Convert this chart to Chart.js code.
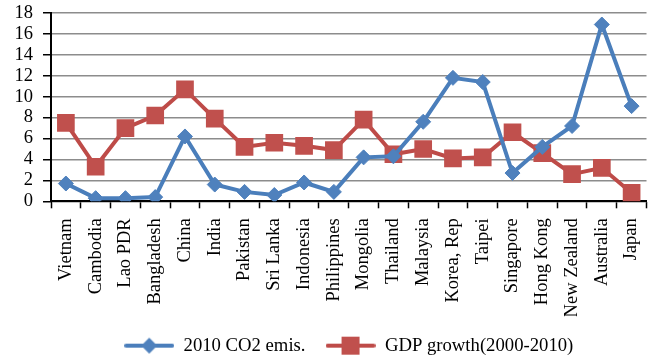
<!DOCTYPE html>
<html>
<head>
<meta charset="utf-8">
<script src="https://cdn.jsdelivr.net/npm/chart.js@4/dist/chart.umd.min.js"></script>
<style>
  html, body { margin: 0; padding: 0; background: #fff; }
  #wrap { width: 659px; height: 356px; }
</style>
</head>
<body>
<div id="wrap"><canvas id="c" width="659" height="356"></canvas></div>
<script>
// Economies shown along the horizontal axis
const countries = ['Vietnam', 'Cambodia', 'Lao PDR', 'Bangladesh', 'China', 'India', 'Pakistan',
  'Sri Lanka', 'Indonesia', 'Philippines', 'Mongolia', 'Thailand', 'Malaysia', 'Korea, Rep',
  'Taipei', 'Singapore', 'Hong Kong', 'New Zealand', 'Australia', 'Japan'];

// 2010 CO2 emissions per capita (metric tons)
const co2Emissions = [1.7, 0.3, 0.3, 0.4, 6.2, 1.6, 0.9, 0.6, 1.8, 0.9, 4.2, 4.3, 7.6, 11.8,
  11.4, 2.7, 5.2, 7.2, 16.9, 9.1];

// Average GDP growth 2000-2010 (%)
const gdpGrowth = [7.5, 3.3, 7.0, 8.2, 10.7, 7.9, 5.2, 5.6, 5.3, 4.9, 7.8, 4.5, 5.0, 4.1,
  4.2, 6.6, 4.6, 2.6, 3.2, 0.8];

// Value axis tick marks
const yTicks = [0, 2, 4, 6, 8, 10, 12, 14, 16, 18];

const BLUE_LINE = '#4A7EBB', BLUE_FILL = '#4F81BD';
const RED_LINE = '#BE4B48', RED_FILL = '#C0504D';
const FONT = '"Liberation Serif", "Times New Roman", serif';

// small legend glyph: line segment with a marker in the middle
function legendGlyph(lineColor, fillColor, style) {
  const cv = document.createElement('canvas');
  cv.width = 50; cv.height = 20;
  const g = cv.getContext('2d');
  g.strokeStyle = lineColor; g.lineWidth = 4; g.lineCap = 'round';
  g.beginPath(); g.moveTo(2, 10); g.lineTo(48, 10); g.stroke();
  g.fillStyle = fillColor;
  g.beginPath();
  if (style === 'diamond') {
    g.moveTo(25, 2); g.lineTo(33, 10); g.lineTo(25, 18); g.lineTo(17, 10); g.closePath();
  } else {
    g.rect(16, 1, 18, 18);
  }
  g.fill();
  return cv;
}

const blueGlyph = legendGlyph(BLUE_LINE, BLUE_FILL, 'diamond');
const redGlyph = legendGlyph(RED_LINE, RED_FILL, 'square');

new Chart(document.getElementById('c'), {
  type: 'line',
  data: {
    labels: countries,
    datasets: [
      {
        label: '2010 CO2 emis.',
        data: co2Emissions,
        borderColor: BLUE_LINE,
        backgroundColor: BLUE_FILL,
        borderWidth: 4,
        pointStyle: 'rectRot',
        pointRadius: 7.5,
        pointBorderWidth: 1,
        pointBorderColor: BLUE_FILL,
        pointBackgroundColor: BLUE_FILL,
        tension: 0
      },
      {
        label: 'GDP growth(2000-2010)',
        data: gdpGrowth,
        borderColor: RED_LINE,
        backgroundColor: RED_FILL,
        borderWidth: 4,
        pointStyle: 'rect',
        pointRadius: 12.5,
        pointBorderWidth: 0,
        pointBorderColor: RED_FILL,
        pointBackgroundColor: RED_FILL,
        tension: 0
      }
    ]
  },
  options: {
    responsive: false,
    animation: false,
    layout: { padding: { left: 0, right: 6, top: 13, bottom: -9 } },
    plugins: {
      tooltip: { enabled: false },
      legend: {
        position: 'bottom',
        fullSize: false,
        labels: {
          usePointStyle: true,
          pointStyleWidth: 50,
          boxHeight: 18,
          padding: 20,
          color: '#000',
          font: { family: FONT, size: 18.7 },
          generateLabels: (chart) => chart.data.datasets.map((ds, i) => ({
            text: ds.label,
            pointStyle: i === 0 ? blueGlyph : redGlyph,
            fillStyle: ds.backgroundColor,
            strokeStyle: ds.borderColor,
            lineWidth: 0,
            datasetIndex: i,
            hidden: false
          }))
        }
      }
    },
    scales: {
      x: {
        offset: true,
        grid: {
          offset: true,
          drawOnChartArea: false,
          drawTicks: true,
          tickLength: 7,
          tickColor: '#000',
          tickWidth: 1.5
        },
        border: { color: '#000', width: 2 },
        ticks: {
          autoSkip: false,
          minRotation: 90,
          maxRotation: 90,
          padding: 10,
          color: '#000',
          font: { family: FONT, size: 18.5 }
        },
        afterFit: (s) => { s.height = 115; s.paddingLeft = 0; s.paddingRight = 0; }
      },
      y: {
        min: 0,
        max: 18,
        afterBuildTicks: (s) => { s.ticks = yTicks.map(v => ({ value: v })); },
        grid: {
          color: '#8c8c8c',
          lineWidth: 1.5,
          drawTicks: true,
          tickLength: 8,
          tickColor: '#000'
        },
        border: { color: '#000', width: 2 },
        ticks: {
          autoSkip: false,
          padding: 10,
          color: '#000',
          font: { family: FONT, size: 18.5 }
        },
        afterFit: (s) => { s.width = 51; s.paddingTop = 0; s.paddingBottom = 0; }
      }
    }
  }
});
</script>
</body>
</html>
